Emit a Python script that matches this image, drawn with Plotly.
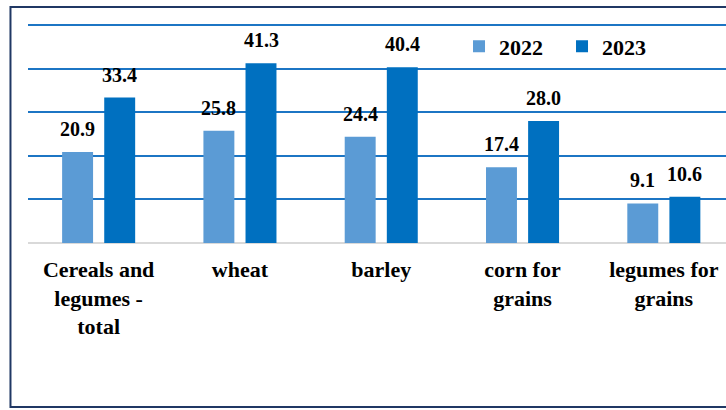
import numpy as np
import plotly.graph_objects as go

categories = ["Cereals and<br>legumes -<br>total", "wheat", "barley", "corn for<br>grains", "legumes for<br>grains"]
series_names = ["2022", "2023"]
values_2022 = [20.9, 25.8, 24.4, 17.4, 9.1]
values_2023 = [33.4, 41.3, 40.4, 28.0, 10.6]
colors = ["#5B9BD5", "#0070C0"]

FONT = "'Times New Roman', 'Liberation Serif', 'DejaVu Serif', serif"
idx = np.arange(len(categories))
shift = 0.149
bw = 0.219

fig = go.Figure()
for name, vals, col, s in [(series_names[0], values_2022, colors[0], -shift),
                           (series_names[1], values_2023, colors[1], shift)]:
    fig.add_trace(go.Bar(
        x=idx + s, y=vals, name=name, width=bw,
        marker=dict(color=col, line=dict(width=0)),
    ))
    for xi, v in zip(idx + s, vals):
        fig.add_annotation(
            x=xi, y=v, text=f"{v:.1f}", showarrow=False,
            yanchor="bottom", yshift=10,
            font=dict(family=FONT, size=20, color="black", weight="bold"),
        )

# frame
fig.add_shape(type="rect", xref="paper", yref="paper",
              x0=-0.0251, x1=1.2, y0=-0.739, y1=1.063,
              line=dict(color="#203864", width=2), fillcolor="rgba(0,0,0,0)", layer="below")

fig.update_layout(
    width=726, height=410,
    margin=dict(l=28, r=0, t=21, b=167, autoexpand=False),
    paper_bgcolor="white", plot_bgcolor="white",
    barmode="overlay",
    showlegend=True,
    legend=dict(orientation="h", x=0.6175, y=0.885, xanchor="left", yanchor="middle",
                font=dict(family=FONT, size=22, color="black", weight="bold"),
                bgcolor="rgba(0,0,0,0)", traceorder="normal", itemwidth=30,
                entrywidth=58, entrywidthmode="pixels"),
    xaxis=dict(
        range=[-0.5, 4.44], tickmode="array", tickvals=idx,
        ticktext=categories,
        tickfont=dict(family=FONT, size=22, color="black", weight="bold"),
        showgrid=False, zeroline=False, showline=False, ticks="", ticklabelstandoff=11,
    ),
    yaxis=dict(
        range=[0, 51], tickvals=[0, 10, 20, 30, 40, 50], showticklabels=False, showgrid=True,
        gridcolor="#1C75C4", gridwidth=2,
        zeroline=True, zerolinecolor="#D9D9D9", zerolinewidth=2,
        showline=False, ticks="",
    ),
)

fig.write_html("out.html")
